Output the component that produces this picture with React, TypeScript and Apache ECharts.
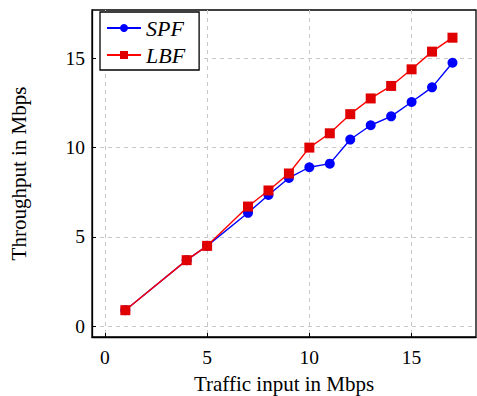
import React, { useEffect, useRef } from "react";
import * as echarts from "echarts";

const xValues = [1, 4, 5, 7, 8, 9, 10, 11, 12, 13, 14, 15, 16, 17];
const spfValues = [0.9, 3.7, 4.5, 6.35, 7.35, 8.3, 8.9, 9.1, 10.45, 11.25, 11.75, 12.55, 13.37, 14.75];
const lbfValues = [0.9, 3.7, 4.5, 6.7, 7.6, 8.55, 10.0, 10.8, 11.87, 12.75, 13.45, 14.38, 15.37, 16.15];
const xTicks = [0, 5, 10, 15];
const yTicks = [0, 5, 10, 15];

const FONT = "'Liberation Serif', 'DejaVu Serif', serif";

export default function App() {
  const ref = useRef<HTMLDivElement>(null);
  useEffect(() => {
    if (!ref.current) return;
    const chart = echarts.init(ref.current, null, { renderer: "svg" });
    const axisCommon = {
      axisLine: { show: true, onZero: false, lineStyle: { color: "#000", width: 1.3 } },
      axisTick: { show: true, inside: true, length: 4, lineStyle: { color: "#000" } },
      splitLine: { show: true, lineStyle: { color: "#c8c8c8", type: [4, 4] as any, width: 1 } },
    };
    chart.setOption({
      animation: false,
      backgroundColor: "#fff",
      grid: {
        left: 92, top: 10, right: 1, bottom: 59, show: true, borderColor: "#000", borderWidth: 1.3,
        containLabel: false, outerBoundsMode: "none",
      },
      legend: {
        left: 100,
        top: 12,
        orient: "vertical",
        backgroundColor: "#fff",
        borderColor: "#000",
        borderWidth: 1.3,
        padding: [5, 14, 4, 6],
        itemWidth: 34,
        itemHeight: 10,
        itemGap: 5,
        textStyle: { fontFamily: FONT, fontStyle: "italic", fontSize: 22, color: "#000" },
        data: ["SPF", "LBF"],
      },
      xAxis: {
        type: "value",
        min: -0.63,
        max: 18.15,
        ...axisCommon,
        axisTick: { ...axisCommon.axisTick, customValues: xTicks },
        axisLabel: { customValues: xTicks, fontFamily: FONT, fontSize: 19.5, color: "#000", margin: 10 },
        name: "Traffic input in Mbps",
        nameLocation: "middle",
        nameGap: 36,
        nameTextStyle: { fontFamily: FONT, fontSize: 21, color: "#000" },
      },
      yAxis: {
        type: "value",
        min: -0.6,
        max: 17.7,
        ...axisCommon,
        axisTick: { ...axisCommon.axisTick, customValues: yTicks },
        axisLabel: { customValues: yTicks, fontFamily: FONT, fontSize: 19.5, color: "#000", margin: 7 },
        name: "Throughput in Mbps",
        nameLocation: "middle",
        nameGap: 63,
        nameTextStyle: { fontFamily: FONT, fontSize: 21, color: "#000" },
      },
      series: [
        {
          name: "SPF",
          type: "line",
          data: xValues.map((x, i) => [x, spfValues[i]]),
          symbol: "circle",
          symbolSize: 10,
          lineStyle: { color: "#0000ff", width: 1.4 },
          itemStyle: { color: "#0000ff" },
          z: 2,
        },
        {
          name: "LBF",
          type: "line",
          data: xValues.map((x, i) => [x, lbfValues[i]]),
          symbol: "rect",
          symbolSize: 10,
          lineStyle: { color: "#ff0000", width: 1.4 },
          itemStyle: { color: "#e00000" },
          z: 3,
        },
      ],
    });
    return () => chart.dispose();
  }, []);
  return <div ref={ref} style={{ position: "fixed", left: 0, top: 0, width: 477, height: 396 }} />;
}
